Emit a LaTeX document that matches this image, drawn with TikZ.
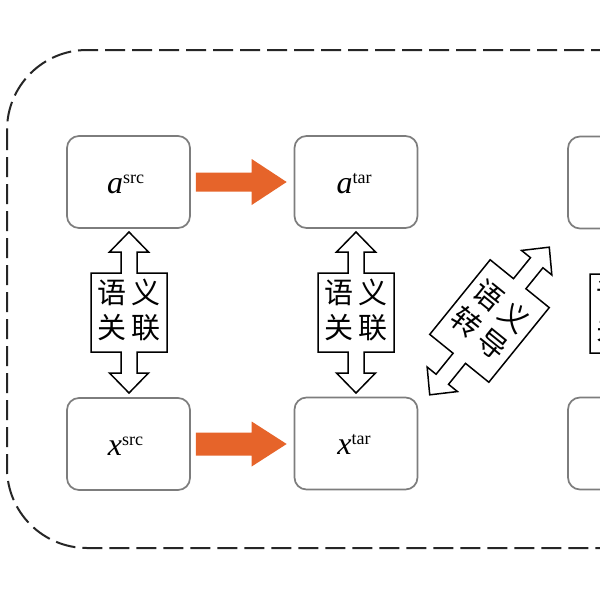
\documentclass[tikz,border=0pt]{standalone}
\usepackage{fontspec}
\setmainfont{Liberation Serif}
\newfontfamily\cjk{Noto Sans CJK SC}
\usetikzlibrary{calc}
\definecolor{arroworange}{RGB}{230,100,42}
\definecolor{boxgray}{RGB}{125,125,125}
\newcommand\mylab[2]{{\fontsize{32}{32}\selectfont\itshape #1}\raisebox{10pt}{\fontsize{18}{18}\selectfont #2}}
% #1 name, #2 center, #3 rotation, #4 half box length, #5 shaft length, #6 text
\newcommand\semarrow[6]{%
\begin{scope}[shift={#2},rotate=#3]
\pgfmathsetmacro\hb{#4}\pgfmathsetmacro\sb{#4+#5}\pgfmathsetmacro\tp{#4+#5+20}
\draw[dblarrow] (0,-\tp) -- (19.5,-\sb) -- (8,-\sb) -- (8,-\hb) -- (38,-\hb) -- (38,\hb) -- (8,\hb) -- (8,\sb) -- (19.5,\sb) -- (0,\tp) -- (-19.5,\sb) -- (-8,\sb) -- (-8,\hb) -- (-38,\hb) -- (-38,-\hb) -- (-8,-\hb) -- (-8,-\sb) -- (-19.5,-\sb) -- cycle;
\node[semtext,transform shape] (#1) at (0,-2) {#6};
\end{scope}}
\tikzset{
  box/.style={draw=boxgray,line width=1.7pt,rounded corners=12pt,minimum width=123pt,minimum height=92pt,inner sep=0pt,fill=white},
  dblarrow/.style={draw=black,line width=1.5pt,fill=white,line join=miter},
  semtext/.style={inner sep=0pt,align=center,font=\cjk\fontsize{29}{35}\selectfont},
  frame/.style={draw=black!85,line width=2pt,dash pattern=on 20pt off 7pt,rounded corners=80pt},
  lab/.style={anchor=base,inner sep=0pt}
}
\begin{document}
\begin{tikzpicture}[x=1pt,y=-1pt]
\useasboundingbox (0,0) rectangle (600,600);
\fill[white] (0,0) rectangle (600,600);
\clip (0,0) rectangle (600,600);
\draw[frame] (7,50) rectangle (780,548);
% boxes
\node[box] (asrc) at (128.5,182) {};
\node[box] (atar) at (356,182) {};
\node[box] (ar) at (629.5,182.5) {};
\node[box] (xsrc) at (128.5,444) {};
\node[box] (xtar) at (356,443.5) {};
\node[box] (xr) at (629.5,443.5) {};
% labels
\node[lab] (lasrc) at ($(asrc.center)+(-3,11)$) {\mylab{a}{src}};
\node[lab] (latar) at ($(atar.center)+(-2,11)$) {\mylab{a}{tar}};
\node[lab] (lxsrc) at ($(xsrc.center)+(-3,11)$) {\mylab{x}{src}};
\node[lab] (lxtar) at ($(xtar.center)+(-2,11)$) {\mylab{x}{tar}};
% orange arrows
\fill[arroworange] let \p1=(asrc.east), \p2=(atar.west) in
 (\x1+5pt,\y1+9.5pt) -- (\x2-42pt,\y1+9.5pt) -- (\x2-42pt,\y1+23pt) -- (\x2-7pt,\y1) -- (\x2-42pt,\y1-23pt) -- (\x2-42pt,\y1-9.5pt) -- (\x1+5pt,\y1-9.5pt) -- cycle;
\fill[arroworange] let \p1=(xsrc.east), \p2=(xtar.west) in
 (\x1+5pt,\y1+11.5pt) -- (\x2-42pt,\y1+11.5pt) -- (\x2-42pt,\y1+22.5pt) -- (\x2-7pt,\y1) -- (\x2-42pt,\y1-22.5pt) -- (\x2-42pt,\y1-11.5pt) -- (\x1+5pt,\y1-11.5pt) -- cycle;
% semantic double arrows
\semarrow{s1}{(129,312.5)}{0}{39.5}{21}{语\hspace{5pt}义\\关\hspace{5pt}联}
\semarrow{s2}{(356,312.5)}{0}{39.5}{21}{语\hspace{5pt}义\\关\hspace{5pt}联}
\semarrow{s3}{(489.5,321)}{-39}{48}{27}{语\hspace{5pt}义\\转\hspace{5pt}导}
\semarrow{s4}{(628,313.5)}{0}{39.5}{21}{语\hspace{5pt}义\\关\hspace{5pt}联}
\end{tikzpicture}
\end{document}
